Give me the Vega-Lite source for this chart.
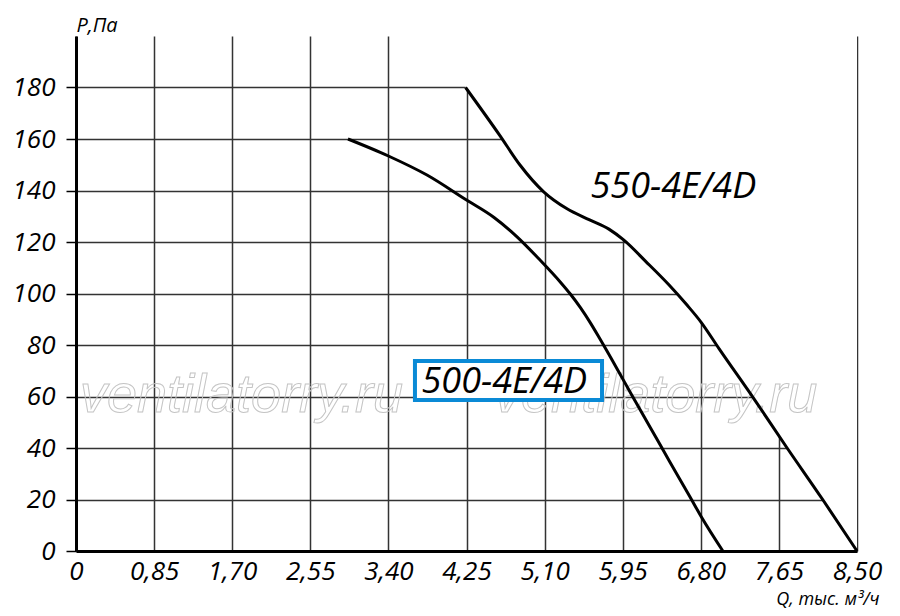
{
  "$schema": "https://vega.github.io/schema/vega-lite/v6.json",
  "width": 781,
  "height": 515,
  "autosize": {"type": "none"},
  "padding": {"left": 76, "top": 36, "right": 43, "bottom": 65},
  "background": "white",
  "config": {"view": {"stroke": null}, "font": "Open Sans"},
  "datasets": {
    "curves": [
      {"series": "550-4E/4D", "q": 4.24, "p": 180},
      {"series": "550-4E/4D", "q": 4.61, "p": 161.5},
      {"series": "550-4E/4D", "q": 4.83, "p": 150},
      {"series": "550-4E/4D", "q": 5.09, "p": 139.5},
      {"series": "550-4E/4D", "q": 5.34, "p": 133},
      {"series": "550-4E/4D", "q": 5.59, "p": 128.6},
      {"series": "550-4E/4D", "q": 5.8, "p": 125},
      {"series": "550-4E/4D", "q": 5.96, "p": 120.8},
      {"series": "550-4E/4D", "q": 6.2, "p": 112.5},
      {"series": "550-4E/4D", "q": 6.45, "p": 103.5},
      {"series": "550-4E/4D", "q": 6.65, "p": 95.5},
      {"series": "550-4E/4D", "q": 6.8, "p": 89},
      {"series": "550-4E/4D", "q": 7.0, "p": 78.5},
      {"series": "550-4E/4D", "q": 7.39, "p": 58.5},
      {"series": "550-4E/4D", "q": 7.73, "p": 40.5},
      {"series": "550-4E/4D", "q": 8.13, "p": 19.8},
      {"series": "550-4E/4D", "q": 8.5, "p": 0},
      {"series": "500-4E/4D", "q": 2.96, "p": 160},
      {"series": "500-4E/4D", "q": 3.4, "p": 153.4},
      {"series": "500-4E/4D", "q": 3.82, "p": 146},
      {"series": "500-4E/4D", "q": 4.25, "p": 136.3},
      {"series": "500-4E/4D", "q": 4.55, "p": 129.5},
      {"series": "500-4E/4D", "q": 4.8, "p": 122},
      {"series": "500-4E/4D", "q": 5.05, "p": 113},
      {"series": "500-4E/4D", "q": 5.27, "p": 104.5},
      {"series": "500-4E/4D", "q": 5.38, "p": 99.8},
      {"series": "500-4E/4D", "q": 5.49, "p": 94.5},
      {"series": "500-4E/4D", "q": 5.6, "p": 88.5},
      {"series": "500-4E/4D", "q": 5.7, "p": 82.5},
      {"series": "500-4E/4D", "q": 5.885, "p": 71},
      {"series": "500-4E/4D", "q": 6.05, "p": 60.5},
      {"series": "500-4E/4D", "q": 6.25, "p": 48},
      {"series": "500-4E/4D", "q": 6.465, "p": 34.5},
      {"series": "500-4E/4D", "q": 6.68, "p": 21.2},
      {"series": "500-4E/4D", "q": 6.81, "p": 13},
      {"series": "500-4E/4D", "q": 7.04, "p": 0}
    ],
    "watermark": [
      {"text": "ventilatorry.ru", "q": 0.0435, "p": 54},
      {"text": "ventilatorry.ru", "q": 4.55, "p": 54}
    ],
    "box": [
      {"q1": 3.689, "q2": 5.725, "p1": 58.6, "p2": 73.8}
    ],
    "labels": [
      {"text": "550-4E/4D", "q": 5.6, "p": 137},
      {"text": "500-4E/4D", "q": 3.76, "p": 61.4}
    ]
  },
  "layer": [
    {
      "data": {"name": "curves"},
      "transform": [{"filter": "datum.series == '550-4E/4D'"}],
      "mark": {"type": "area", "fill": "white", "interpolate": "monotone", "stroke": null},
      "encoding": {
        "x": {
          "field": "q",
          "type": "quantitative",
          "scale": {"domain": [0, 8.5], "nice": false, "zero": false},
          "axis": {
            "values": [0, 0.85, 1.7, 2.55, 3.4, 4.25, 5.1, 5.95, 6.8, 7.65, 8.5],
            "labelExpr": "datum.value == 0 ? '0' : replace(format(datum.value, '.2f'), '.', ',')",
            "grid": true,
            "gridColor": "#333333",
            "gridWidth": 1.5,
            "gridOpacity": 1,
            "ticks": false,
            "domain": true,
            "domainColor": "#000000",
            "domainWidth": 3,
            "labelFont": "Open Sans",
            "labelFontStyle": "italic",
            "labelFontSize": 26,
            "labelColor": "#000000",
            "labelPadding": 7,
            "labelBaseline": "top",
            "labelFlush": false,
            "labelOverlap": false,
            "title": "Q, тыс. м³/ч",
            "titleFont": "Open Sans",
            "titleFontStyle": "italic",
            "titleFontWeight": "normal",
            "titleFontSize": 18,
            "titleColor": "#000000",
            "titleAlign": "right",
            "titleAnchor": null,
            "titleBaseline": "alphabetic",
            "titleX": 803,
            "titleY": 53
          }
        },
        "y": {
          "field": "p",
          "type": "quantitative",
          "scale": {"domain": [0, 200], "nice": false, "zero": false},
          "axis": {
            "values": [0, 20, 40, 60, 80, 100, 120, 140, 160, 180],
            "grid": true,
            "gridColor": "#333333",
            "gridWidth": 1.5,
            "gridOpacity": 1,
            "ticks": true,
            "tickSize": 10,
            "tickColor": "#000000",
            "tickWidth": 1.5,
            "domain": true,
            "domainColor": "#000000",
            "domainWidth": 3,
            "labelFont": "Open Sans",
            "labelFontStyle": "italic",
            "labelFontSize": 26,
            "labelColor": "#000000",
            "labelPadding": 11,
            "labelFlush": false,
            "labelOverlap": false,
            "title": "P,Па",
            "titleFont": "Open Sans",
            "titleFontStyle": "italic",
            "titleFontWeight": "normal",
            "titleFontSize": 20,
            "titleColor": "#000000",
            "titleAngle": 0,
            "titleAlign": "left",
            "titleAnchor": null,
            "titleBaseline": "alphabetic",
            "titleX": 0,
            "titleY": -5
          }
        },
        "y2": {"datum": 200}
      }
    },
    {
      "data": {"name": "watermark"},
      "mark": {"type": "text", "font": "Liberation Sans", "fontStyle": "italic", "fontSize": 54, "align": "left", "baseline": "alphabetic", "fillOpacity": 0, "stroke": "#c4c4c4", "strokeWidth": 1},
      "encoding": {
        "x": {"field": "q", "type": "quantitative"},
        "y": {"field": "p", "type": "quantitative"},
        "text": {"field": "text"}
      }
    },
    {
      "data": {"name": "curves"},
      "mark": {"type": "line", "interpolate": "monotone", "strokeWidth": 3, "color": "#000000"},
      "encoding": {
        "x": {"field": "q", "type": "quantitative"},
        "y": {"field": "p", "type": "quantitative"},
        "detail": {"field": "series"}
      }
    },
    {
      "data": {"name": "box"},
      "mark": {"type": "rect", "fill": "white", "stroke": "#0a8ad6", "strokeWidth": 4},
      "encoding": {
        "x": {"field": "q1", "type": "quantitative"},
        "x2": {"field": "q2"},
        "y": {"field": "p1", "type": "quantitative"},
        "y2": {"field": "p2"}
      }
    },
    {
      "data": {"name": "labels"},
      "mark": {"type": "text", "font": "Open Sans", "fontStyle": "italic", "fontSize": 36, "align": "left", "baseline": "alphabetic", "color": "#000000"},
      "encoding": {
        "x": {"field": "q", "type": "quantitative"},
        "y": {"field": "p", "type": "quantitative"},
        "text": {"field": "text"}
      }
    },
    {
      "mark": {"type": "rule", "strokeWidth": 3, "color": "#000000"},
      "encoding": {"y": {"datum": 200}}
    },
    {
      "mark": {"type": "rule", "strokeWidth": 3, "color": "#000000"},
      "encoding": {"x": {"datum": 8.5}}
    }
  ]
}
